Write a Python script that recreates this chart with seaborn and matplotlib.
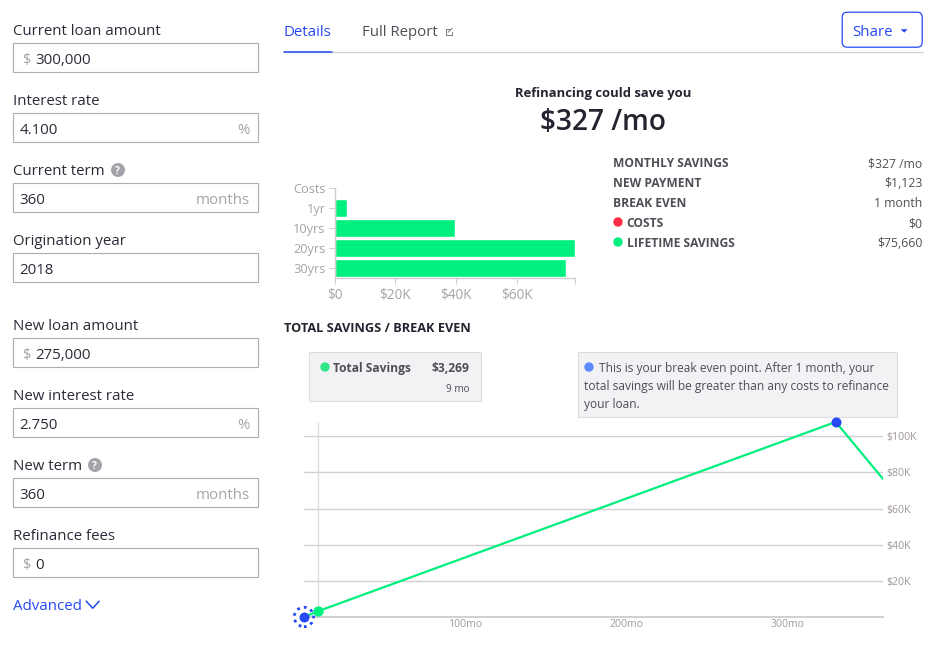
import seaborn as sns
from matplotlib import pyplot as plt
from matplotlib.patches import Rectangle, Circle, FancyBboxPatch

# ---- data ----
input_labels = ["Current loan amount", "Interest rate", "Current term", "Origination year",
                "New loan amount", "New interest rate", "New term", "Refinance fees"]
input_values = ["300,000", "4.100", "360", "2018", "275,000", "2.750", "360", "0"]
input_prefix = ["$", "", "", "", "$", "", "", "$"]
input_suffix = ["", "%", "months", "", "", "%", "months", ""]

stat_labels = ["MONTHLY SAVINGS", "NEW PAYMENT", "BREAK EVEN", "COSTS", "LIFETIME SAVINGS"]
stat_values = ["$327 /mo", "$1,123", "1 month", "$0", "$75,660"]

bar_labels = ["Costs", "1yr", "10yrs", "20yrs", "30yrs"]
bar_values = [0, 4050, 39600, 79000, 76200]
bar_ticks = [0, 20000, 40000, 60000, 79000]
bar_tick_labels = ["$0", "$20K", "$40K", "$60K", ""]

line_months = [1, 9, 330, 360]
line_savings = [327, 3269, 107910, 75660]
break_even = ([0, 330], [0, 107910])
hover_month = 9
hover_value = 3269
y_ticks = [20000, 40000, 60000, 80000, 100000]
y_tick_labels = ["$20K", "$40K", "$60K", "$80K", "$100K"]
x_ticks = [100, 200, 300]
x_tick_labels = ["100mo", "200mo", "300mo"]

# ---- colours ----
BLUE = "#2449f5"
GREEN = "#00f07f"
RED = "#ff2d44"
DARK = "#25232f"
BODY = "#514d56"
MUTED = "#a5a3a9"
LINE = "#d0d0d4"
W, H = 943, 657

sns.set_theme(style="white")
plt.rcParams["font.family"] = ["Open Sans", "DejaVu Sans"]

fig = plt.figure(figsize=(W / 100, H / 100), dpi=100, facecolor="white")


def fs(px):
    return px * 0.72


def axes_px(left, top, right, bottom):
    return fig.add_axes([left / W, 1 - bottom / H, (right - left) / W, (bottom - top) / H])


# overlay in pixel coordinates for the form and the text around the charts
ui = fig.add_axes([0, 0, 1, 1])
ui.set_xlim(0.3, W + 0.3)
ui.set_ylim(H + 0.3, 0.3)
ui.axis("off")


def txt(x, y, s, px=14, color=BODY, ha="left", weight="normal"):
    ui.text(x, y + 2.1, s, fontsize=fs(px), color=color, ha=ha, va="center", fontweight=weight)


def dot(x, y, r, color):
    ui.add_patch(Circle((x + 0.3, y + 0.3), r, fc=color, ec="none"))


def box(x0, y0, x1, y1, fc="white", ec=LINE, lw=1.0):
    ui.add_patch(Rectangle((x0, y0), x1 - x0, y1 - y0, fc=fc, ec=ec, lw=lw * 0.72))


# ---- left form ----
label_y = [30, 100, 170, 240, 325, 395, 465, 535]
for i, lab in enumerate(input_labels):
    ly = label_y[i]
    txt(13, ly, lab, 15, "#2c2a38")
    box(13.5, ly + 13.5, 258.5, ly + 42.5, ec="#adacb1", lw=1.1)
    if input_prefix[i]:
        txt(22.5, ly + 29, input_prefix[i], 14.5, MUTED)
        txt(35.5, ly + 29, input_values[i], 15, "#2c2a38")
    else:
        txt(20, ly + 29, input_values[i], 15, "#2c2a38")
    if input_suffix[i]:
        txt(250, ly + 28.5, input_suffix[i], 15, MUTED, ha="right")
for x, y in [(118, 170), (95, 465)]:
    dot(x, y, 7, "#a5a3a9")
    txt(x, y - 0.5, "?", 10, "white", ha="center", weight="bold")
txt(13, 605, "Advanced", 15, BLUE)
ui.plot([86.5, 93, 99.5], [601.5, 608.5, 601.5], color=BLUE, lw=1.1)

# ---- tabs ----
txt(283.7, 31, "Details", 15, BLUE)
txt(362, 31, "Full Report", 15, BODY)
ui.plot([449, 446, 446, 452, 452], [29, 29, 35, 35, 32], color="#77747c", lw=0.7)
ui.plot([448.5, 452.5], [32.5, 28.5], color="#77747c", lw=0.7)
ui.plot([284, 923], [52.5, 52.5], color=LINE, lw=0.9)
ui.plot([284, 332], [52.5, 52.5], color=BLUE, lw=1.1)
ui.add_patch(FancyBboxPatch((842.5, 12.5), 80, 35, boxstyle="round,pad=0,rounding_size=5",
                            fc="white", ec=BLUE, lw=0.9))
txt(853, 30.5, "Share", 15, BLUE)
ui.fill([901, 908, 904.5], [29.5, 29.5, 33], color=BLUE, lw=0)

# ---- headline and stats ----
txt(603.5, 92, "Refinancing could save you", 13, DARK, ha="center", weight="bold")
txt(603.5, 120.5, "$327 /mo", 28, DARK, ha="center", weight="semibold")
stat_y = [162, 182, 202, 222, 242]
for i, lab in enumerate(stat_labels):
    x = 613
    if lab == "COSTS":
        dot(618, stat_y[i], 4.7, RED)
        x = 627
    elif lab == "LIFETIME SAVINGS":
        dot(618, stat_y[i], 4.7, GREEN)
        x = 627
    txt(x, stat_y[i], lab, 12, BODY, weight="bold")
    txt(922.5, stat_y[i], stat_values[i], 12.3, BODY, ha="right")

# ---- bar chart ----
ax = axes_px(334.5, 177.5, 574.5, 277.8)
ax.patch.set_alpha(0)
sns.barplot(x=bar_values, y=bar_labels, color=GREEN, saturation=1, width=0.9, ax=ax)
ax.set_xlim(0, 79000)
ax.set_ylim(4.5, -0.5)
ax.set_xticks(bar_ticks)
ax.set_xticklabels(bar_tick_labels)
ax.tick_params(axis="both", length=4.6, width=0.8, color=LINE, labelcolor=MUTED,
               labelsize=fs(13.5), pad=3, bottom=True, left=True)
ax.tick_params(axis="y", labelsize=fs(12.8), pad=2)
sns.despine(ax=ax)
for s in ["left", "bottom"]:
    ax.spines[s].set_color(LINE)
    ax.spines[s].set_linewidth(1.0)
ax.spines["left"].set_bounds(4.5, 0)

txt(284, 327, "TOTAL SAVINGS / BREAK EVEN", 12.7, DARK, weight="bold")

# ---- savings line chart ----
ax2 = axes_px(303.9, 420, 882.5, 617)
ax2.patch.set_alpha(0)
ax2.set_xlim(0, 359)
ax2.set_ylim(0, 109000)
ax2.yaxis.tick_right()
ax2.set_yticks(y_ticks)
ax2.set_yticklabels(y_tick_labels)
ax2.set_xticks(x_ticks)
ax2.set_xticklabels(x_tick_labels)
ax2.tick_params(axis="y", length=0, labelsize=fs(10.5), labelcolor="#a09797", pad=2.5)
ax2.tick_params(axis="x", length=0, labelsize=fs(10.5), labelcolor="#9d9ba1", pad=1.6)
ax2.grid(axis="y", color=LINE, lw=1.0)
ax2.grid(axis="x", visible=False)
sns.despine(ax=ax2, left=True, right=True, top=True)
ax2.spines["bottom"].set_color(LINE)
ax2.spines["bottom"].set_linewidth(1.4)
ax2.vlines(hover_month, 0, 108000, color="#dcdcdf", lw=1.0, zorder=1)
sns.lineplot(x=[0] + line_months, y=[0] + line_savings, color="#00ee7d", lw=1.6,
             errorbar=None, estimator=None, sort=False, ax=ax2, zorder=3)
sns.scatterplot(x=[hover_month], y=[hover_value], color=GREEN, s=55, linewidth=0,
                clip_on=False, ax=ax2, zorder=4)
sns.scatterplot(x=break_even[0], y=break_even[1], color=BLUE, s=52, linewidth=0,
                clip_on=False, ax=ax2, zorder=5)
ax2.scatter(break_even[0][0], break_even[1][0], s=195, facecolor="none", edgecolor=BLUE,
            linewidth=2.0, linestyle=(0, (1.0, 1.5)), clip_on=False, zorder=5)

# ---- tooltips ----
box(309, 352.5, 481, 401.5, fc="#f2f2f5", ec="#dcdcdf", lw=1.1)
dot(325, 367, 4.7, "#2ee88a")
txt(333, 367, "Total Savings", 12, BODY, weight="bold")
txt(469.5, 367, "$3,269", 12, BODY, ha="right", weight="bold")
txt(469.5, 388, "9 mo", 10, BODY, ha="right")

box(578.5, 352.5, 897.5, 417.5, fc="#f2f2f5", ec="#dcdcdf", lw=1.1)
dot(589, 367, 4.7, "#5a8bff")
txt(599.5, 367, "This is your break even point. After 1 month, your", 12, BODY)
txt(584, 385, "total savings will be greater than any costs to refinance", 12, BODY)
txt(584, 403, "your loan.", 12, BODY)

fig.savefig("out.png", dpi=100)
